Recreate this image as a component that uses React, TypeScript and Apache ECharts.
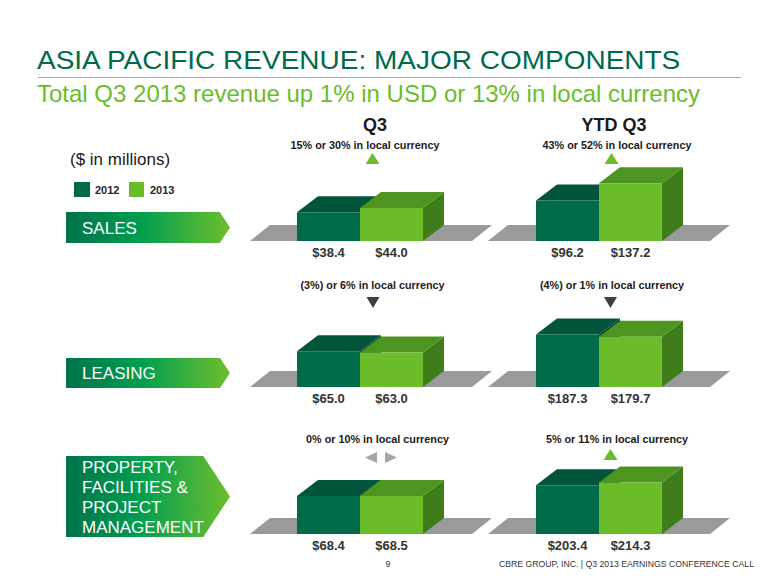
import React, { useEffect, useRef } from "react";
import * as echarts from "echarts";

// ---- data ----
const categories = ["2012", "2013"];
const q3Sales = [38.4, 44.0];
const ytdSales = [96.2, 137.2];
const q3Leasing = [65.0, 63.0];
const ytdLeasing = [187.3, 179.7];
const q3Pfpm = [68.4, 68.5];
const ytdPfpm = [203.4, 214.3];
const q3AxisMax = [133, 182, 180];
const ytdAxisMax = [238, 357, 417];
const segmentNames = ["SALES", "LEASING", "PROPERTY,\nFACILITIES &\nPROJECT\nMANAGEMENT"];
const q3Changes = ["15% or 30% in local currency", "(3%) or 6% in local currency", "0% or 10% in local currency"];
const ytdChanges = ["43% or 52% in local currency", "(4%) or 1% in local currency", "5% or 11% in local currency"];
const q3Trend = ["up", "down", "flat"];
const ytdTrend = ["up", "down", "up"];

const FONT = "'Liberation Sans', Arial, Helvetica, sans-serif";
const DARK = "#006B4B";
const LIGHT = "#6ABD28";

export default function App() {
  const ref = useRef<HTMLDivElement>(null);
  useEffect(() => {
    if (!ref.current) return;
    const chart = echarts.init(ref.current, null, { renderer: "svg" });
    const rowBase = [241, 387, 534];
    const colLeft = [297, 536];
    const colFloorLeft = [250, 488];
    const H = 100;
    const grids: any[] = [];
    const xAxes: any[] = [];
    const yAxes: any[] = [];
    const series: any[] = [];
    const datasets = [
      [q3Sales, ytdSales],
      [q3Leasing, ytdLeasing],
      [q3Pfpm, ytdPfpm],
    ];
    const maxes = [q3AxisMax, ytdAxisMax];
    const pal = [
      { front: DARK, top: "#00553B", side: "#004D35" },
      { front: LIGHT, top: "#4E9420", side: "#3F7C1A" },
    ];
    let gi = 0;
    for (let r = 0; r < 3; r++) {
      for (let c = 0; c < 2; c++) {
        const yb = rowBase[r];
        grids.push({ left: colLeft[c], width: 126, top: yb - H, height: H });
        xAxes.push({ type: "category", data: categories, gridIndex: gi, show: false });
        yAxes.push({ type: "value", min: 0, max: maxes[c][r], gridIndex: gi, show: false });
        series.push({
          type: "custom",
          xAxisIndex: gi,
          yAxisIndex: gi,
          data: datasets[r][c].map((v, i) => [i, v]),
          renderItem: (params: any, api: any) => {
            const idx = api.value(0);
            const v = api.value(1);
            const top = api.coord([idx, v]);
            const base = api.coord([idx, 0]);
            const w = api.size([1, 0])[0];
            const x0 = base[0] - w / 2;
            const x1 = base[0] + w / 2;
            const ybb = base[1];
            const yt = top[1];
            const dx = 21, dy = 16;
            const p = pal[idx];
            return {
              type: "group",
              children: [
                { type: "polygon", shape: { points: [[x1, yt], [x1 + dx, yt - dy], [x1 + dx, ybb - dy], [x1, ybb]] }, style: { fill: p.side } },
                { type: "polygon", shape: { points: [[x0, yt], [x0 + dx, yt - dy], [x1 + dx, yt - dy], [x1, yt]] }, style: { fill: p.top } },
                { type: "rect", shape: { x: x0, y: yt, width: w, height: ybb - yt }, style: { fill: p.front } },
                {
                  type: "text", x: base[0], y: ybb + 11,
                  style: { text: "$" + v.toFixed(1), textAlign: "center", textVerticalAlign: "middle", font: `bold 13px ${FONT}`, fill: "#333333" },
                },
              ],
            };
          },
        });
        gi++;
      }
    }

    const graphic: any[] = [];
    // floors
    for (let r = 0; r < 3; r++) {
      for (let c = 0; c < 2; c++) {
        const yb = rowBase[r];
        const xl = colFloorLeft[c];
        graphic.push({
          type: "polygon", z: 0,
          shape: { points: [[xl, yb], [xl + 222, yb], [xl + 242, yb - 16], [xl + 20, yb - 16]] },
          style: { fill: "#9A9A9A" },
        });
      }
    }
    // title
    graphic.push({ type: "text", x: 37, y: 60, scaleY: 0.92, style: { text: "ASIA PACIFIC REVENUE: MAJOR COMPONENTS", font: `28px ${FONT}`, fill: "#006B4B", textVerticalAlign: "middle" } });
    graphic.push({ type: "line", shape: { x1: 38, y1: 77.5, x2: 741, y2: 77.5 }, style: { stroke: "#8DC63F", lineWidth: 1 } });
    graphic.push({ type: "text", x: 37, y: 93, style: { text: "Total Q3 2013 revenue up 1% in USD or 13% in local currency", font: `24px ${FONT}`, fill: "#6ABD28", textVerticalAlign: "middle" } });
    // column headers
    graphic.push({ type: "text", x: 375, y: 125, style: { text: "Q3", font: `bold 18px ${FONT}`, fill: "#1a1a1a", textAlign: "center", textVerticalAlign: "middle" } });
    graphic.push({ type: "text", x: 614, y: 125, style: { text: "YTD Q3", font: `bold 18px ${FONT}`, fill: "#1a1a1a", textAlign: "center", textVerticalAlign: "middle" } });
    // units + legend
    graphic.push({ type: "text", x: 70, y: 159, style: { text: "($ in millions)", font: `17px ${FONT}`, fill: "#1a1a1a", textVerticalAlign: "middle" } });
    graphic.push({ type: "rect", shape: { x: 74, y: 182, width: 16, height: 15 }, style: { fill: DARK } });
    graphic.push({ type: "text", x: 95, y: 190, style: { text: categories[0], font: `bold 11px ${FONT}`, fill: "#262626", textVerticalAlign: "middle" } });
    graphic.push({ type: "rect", shape: { x: 129, y: 182, width: 15, height: 15 }, style: { fill: LIGHT } });
    graphic.push({ type: "text", x: 150, y: 190, style: { text: categories[1], font: `bold 11px ${FONT}`, fill: "#262626", textVerticalAlign: "middle" } });

    // banners
    const banners = [
      { y0: 212, y1: 243 },
      { y0: 358, y1: 388 },
      { y0: 456, y1: 537 },
    ];
    const grad = {
      type: "linear", x: 0, y: 0, x2: 1, y2: 0,
      colorStops: [
        { offset: 0, color: "#00734A" },
        { offset: 0.45, color: "#009E50" },
        { offset: 1, color: "#6DBE2C" },
      ],
    };
    banners.forEach((b, i) => {
      const mid = (b.y0 + b.y1) / 2;
      const tipW = (b.y1 - b.y0) * 0.33;
      graphic.push({
        type: "polygon",
        shape: { points: [[66, b.y0], [230 - tipW, b.y0], [230, mid], [230 - tipW, b.y1], [66, b.y1]] },
        style: { fill: grad },
      });
      graphic.push({
        type: "text", x: 82, y: mid + 0.5,
        style: { text: segmentNames[i], font: `17px ${FONT}`, fill: "#ffffff", textVerticalAlign: "middle", lineHeight: 20 },
      });
    });

    // change labels + arrows
    const changeY = [145, 285, 439];
    const q3TextX = [365, 372.5, 377.5];
    const ytdTextX = [617, 612, 617];
    const q3ArrowX = [372.5, 373, 381];
    const ytdArrowX = [611.5, 610.5, 610.5];
    const arrowTop = [153, 297, 449];
    const addArrow = (kind: string, cx: number, y0: number) => {
      if (kind === "up") {
        graphic.push({ type: "polygon", shape: { points: [[cx - 7, y0 + 11], [cx + 7, y0 + 11], [cx, y0]] }, style: { fill: LIGHT } });
      } else if (kind === "down") {
        graphic.push({ type: "polygon", shape: { points: [[cx - 6.5, y0], [cx + 6.5, y0], [cx, y0 + 11]] }, style: { fill: "#3F3F3F" } });
      } else {
        graphic.push({ type: "polygon", shape: { points: [[cx - 4, y0 + 3], [cx - 4, y0 + 14], [cx - 16, y0 + 8.5]] }, style: { fill: "#A6A6A6" } });
        graphic.push({ type: "polygon", shape: { points: [[cx + 4, y0 + 3], [cx + 4, y0 + 14], [cx + 16, y0 + 8.5]] }, style: { fill: "#A6A6A6" } });
      }
    };
    for (let r = 0; r < 3; r++) {
      graphic.push({ type: "text", x: q3TextX[r], y: changeY[r], style: { text: q3Changes[r], font: `bold 10.8px ${FONT}`, fill: "#1a1a1a", textAlign: "center", textVerticalAlign: "middle" } });
      graphic.push({ type: "text", x: ytdTextX[r], y: changeY[r], style: { text: ytdChanges[r], font: `bold 10.8px ${FONT}`, fill: "#1a1a1a", textAlign: "center", textVerticalAlign: "middle" } });
      addArrow(q3Trend[r], q3ArrowX[r], arrowTop[r]);
      addArrow(ytdTrend[r], ytdArrowX[r], arrowTop[r]);
    }

    // footer
    graphic.push({ type: "text", x: 388, y: 564, style: { text: "9", font: `8.7px ${FONT}`, fill: "#333333", textAlign: "center", textVerticalAlign: "middle" } });
    graphic.push({ type: "text", x: 754, y: 564, style: { text: "CBRE GROUP, INC. | Q3 2013 EARNINGS CONFERENCE CALL", font: `8.7px ${FONT}`, fill: "#333333", textAlign: "right", textVerticalAlign: "middle" } });

    chart.setOption({
      animation: false,
      backgroundColor: "#ffffff",
      grid: grids,
      xAxis: xAxes,
      yAxis: yAxes,
      series,
      graphic,
    });
    return () => chart.dispose();
  }, []);
  return (
    <div
      ref={ref}
      style={{ position: "fixed", left: 0, top: 0, width: 780, height: 585, background: "#fff" }}
    />
  );
}
